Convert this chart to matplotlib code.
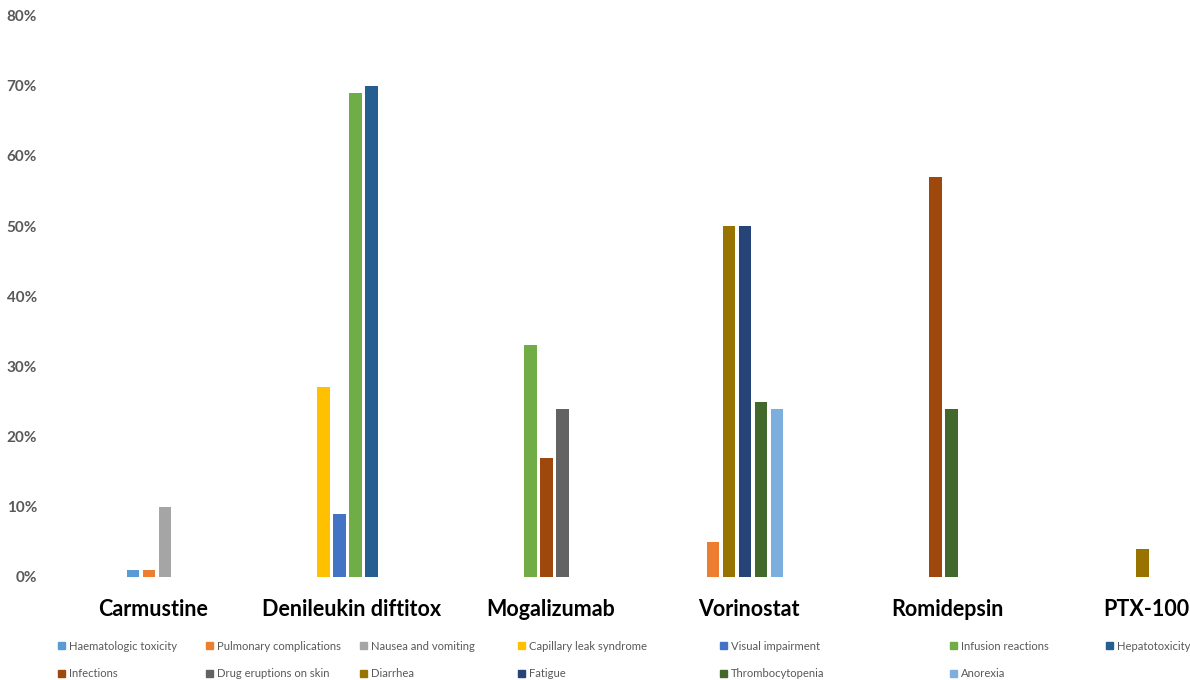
import matplotlib.pyplot as plt
from matplotlib.patches import Patch
from matplotlib.ticker import PercentFormatter, MultipleLocator

plt.rcParams['font.family'] = ['Lato', 'DejaVu Sans']

drugs = ["Carmustine", "Denileukin diftitox", "Mogalizumab",
         "Vorinostat", "Romidepsin", "PTX-100"]

effects = ["Haematologic toxicity", "Pulmonary complications", "Nausea and vomiting",
           "Capillary leak syndrome", "Visual impairment", "Infusion reactions",
           "Hepatotoxicity", "Infections", "Drug eruptions on skin", "Diarrhea",
           "Fatigue", "Thrombocytopenia", "Anorexia"]

colors = ["#5B9BD5", "#ED7D31", "#A5A5A5", "#FFC000", "#4472C4", "#70AD47",
          "#255E91", "#9E480E", "#636363", "#997300", "#264478", "#43682B",
          "#7CAFDD"]

# incidence in %, one row per adverse effect, one column per drug (None = not reported)
incidence = [
    [1,    None, None, None, None, None],   # Haematologic toxicity
    [1,    None, None, 5,    None, None],   # Pulmonary complications
    [10,   None, None, None, None, None],   # Nausea and vomiting
    [None, 27,   None, None, None, None],   # Capillary leak syndrome
    [None, 9,    None, None, None, None],   # Visual impairment
    [None, 69,   33,   None, None, None],   # Infusion reactions
    [None, 70,   None, None, None, None],   # Hepatotoxicity
    [None, None, 17,   None, 57,   None],   # Infections
    [None, None, 24,   None, None, None],   # Drug eruptions on skin
    [None, None, None, 50,   None, 4],      # Diarrhea
    [None, None, None, 50,   None, None],   # Fatigue
    [None, None, None, 25,   24,   None],   # Thrombocytopenia
    [None, None, None, 24,   None, None],   # Anorexia
]

fig = plt.figure(figsize=(11.9, 6.8), dpi=100)
ax = fig.add_axes([0.0451, 0.1515, 0.9549, 0.8257])

pitch = 0.0806
width = 0.063
for j in range(len(drugs)):
    present = [i for i in range(len(effects)) if incidence[i][j]]
    n = len(present)
    for k, i in enumerate(present):
        x = j + (k - (n - 1) / 2) * pitch - 0.02
        ax.bar(x, incidence[i][j] / 100, width, color=colors[i])

ax.set_xlim(-0.5, 5.22)
ax.set_ylim(0, 0.8)
ax.yaxis.set_major_locator(MultipleLocator(0.1))
ax.yaxis.set_major_formatter(PercentFormatter(1.0, decimals=0))
ax.set_xticks(range(len(drugs)))
ax.set_xticklabels(drugs, fontsize=15.5, fontweight='bold', color='black')
ax.tick_params(axis='x', length=0, pad=16)
ax.tick_params(axis='y', length=0, pad=12, labelsize=11, labelcolor='#595959')
for lab in ax.get_yticklabels():
    lab.set_fontweight('bold')
for s in ax.spines.values():
    s.set_visible(False)

# legend: 7 columns, two rows filled left to right
ncols = 7
col_x = [58, 206, 360, 518, 720, 950, 1106]   # left edge of each legend column, px
for c in range(ncols):
    items = [i for i in range(c, len(effects), ncols)]
    handles = [Patch(color=colors[i], label=effects[i]) for i in items]
    fig.legend(handles=handles, loc='upper left',
               bbox_to_anchor=(col_x[c] / 1190, 0.058),
               frameon=False, fontsize=8.1, labelcolor='#595959',
               handlelength=0.6, handleheight=0.6, handletextpad=0.35,
               labelspacing=1.5, borderpad=0, borderaxespad=0)

fig.savefig("out.png", dpi=100)
